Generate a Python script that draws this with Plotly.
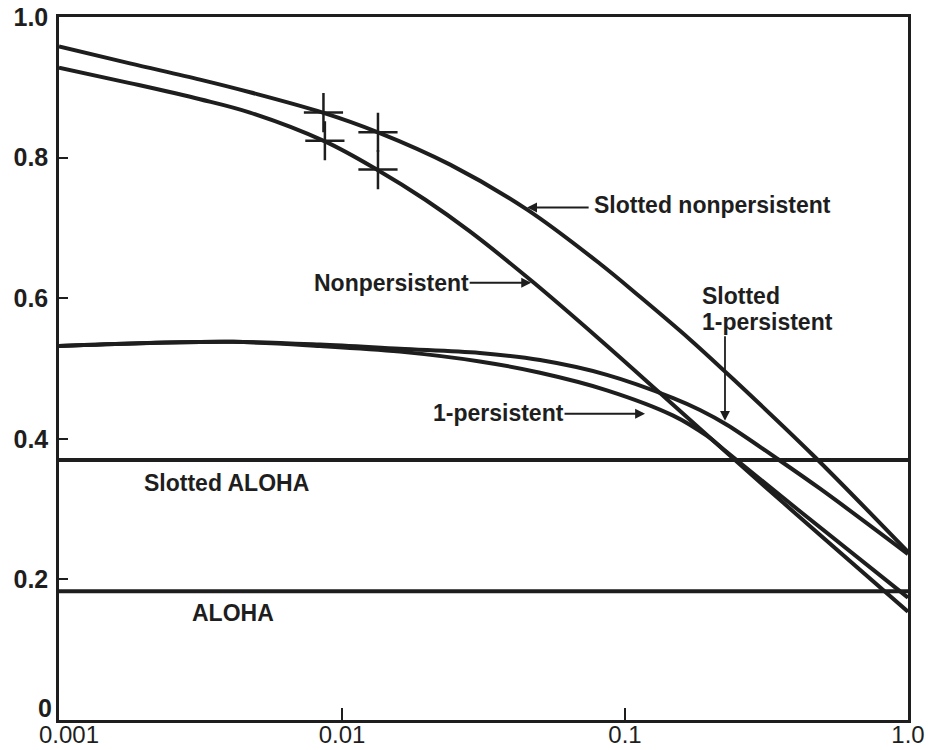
import numpy as np
import plotly.graph_objects as go

# ---- data (x = a, y = throughput S) ----
a_slot_np = [0.001, 0.00178, 0.00315, 0.00473, 0.00855, 0.0134, 0.0241, 0.0451, 0.0816, 0.113, 0.170, 0.241, 0.461, 1.0]
s_slot_np = [0.958, 0.934, 0.911, 0.893, 0.864, 0.836, 0.790, 0.726, 0.649, 0.602, 0.541, 0.485, 0.377, 0.239]

a_np = [0.001, 0.00178, 0.00315, 0.00473, 0.0087, 0.0134, 0.0197, 0.0283, 0.0473, 0.0816, 0.133, 0.229, 0.489, 1.0]
s_np = [0.928, 0.906, 0.883, 0.864, 0.823, 0.782, 0.740, 0.695, 0.623, 0.541, 0.465, 0.380, 0.263, 0.154]

a_1p = [0.001, 0.00193, 0.00412, 0.00836, 0.0160, 0.0307, 0.0501, 0.0863, 0.148, 0.195, 0.229, 0.415, 1.0]
s_1p = [0.532, 0.536, 0.538, 0.532, 0.524, 0.510, 0.494, 0.469, 0.433, 0.404, 0.381, 0.297, 0.174]

a_slot_1p = [0.001, 0.00193, 0.00412, 0.00836, 0.0160, 0.0307, 0.0501, 0.0863, 0.148, 0.184, 0.229, 0.344, 0.489, 1.0]
s_slot_1p = [0.532, 0.536, 0.538, 0.534, 0.528, 0.522, 0.512, 0.491, 0.458, 0.441, 0.420, 0.372, 0.329, 0.236]

a_aloha = [0.001, 1.0]
s_slot_aloha = [0.370, 0.370]
s_aloha = [0.183, 0.183]

# simulation crosses
a_sim = [0.0086, 0.0134, 0.0087, 0.0134]
s_sim = [0.864, 0.836, 0.824, 0.783]

x_tickvals = [0.001, 0.01, 0.1, 1.0]
x_ticktext = ["\u00a0\u00a0\u00a00.001", "0.01", "0.1", "1.0"]
y_tickvals = [0.2, 0.4, 0.6, 0.8, 1.0]
y_ticktext = ["0.2", "0.4", "0.6", "0.8", "1.0"]
y_zero_label = "0"

INK = "#1e1e1e"
FONT = "Liberation Sans"

fig = go.Figure()

def curve(a, s, name, w=4):
    fig.add_trace(go.Scatter(x=a, y=s, mode="lines", name=name,
                             line=dict(color=INK, width=w, shape="spline", smoothing=1.0),
                             showlegend=False, hoverinfo="skip"))

curve(a_slot_np, s_slot_np, "Slotted nonpersistent")
curve(a_np, s_np, "Nonpersistent")
curve(a_slot_1p, s_slot_1p, "Slotted 1-persistent")
curve(a_1p, s_1p, "1-persistent")
fig.add_trace(go.Scatter(x=a_aloha, y=s_slot_aloha, mode="lines", line=dict(color=INK, width=4),
                         showlegend=False, hoverinfo="skip"))
fig.add_trace(go.Scatter(x=a_aloha, y=s_aloha, mode="lines", line=dict(color=INK, width=4),
                         showlegend=False, hoverinfo="skip"))
fig.add_trace(go.Scatter(x=a_sim, y=s_sim, mode="markers",
                         marker=dict(symbol="cross-thin", size=28, line=dict(color=INK, width=2.5)),
                         showlegend=False, hoverinfo="skip"))

lab_font = dict(family=FONT, size=23, color=INK, weight="bold")

def label(text, a, s):
    fig.add_annotation(x=np.log10(a), y=s, text=text, showarrow=False,
                       xanchor="left", yanchor="middle", font=lab_font, borderpad=0)

def arrow(a, s, ax, ay):
    fig.add_annotation(x=np.log10(a), y=s, text="", showarrow=True, ax=ax, ay=ay,
                       arrowhead=2, arrowsize=1.1, arrowwidth=1.8, arrowcolor=INK)

label("Slotted nonpersistent", 0.0771, 0.733)
arrow(0.0451, 0.729, 63, 0)
label("Nonpersistent", 0.0079, 0.622)
arrow(0.0466, 0.622, -63, 0)
label("Slotted", 0.1856, 0.6036)
label("1-persistent", 0.1856, 0.5665)
arrow(0.2256, 0.4256, 0, -86)
label("1-persistent", 0.0208, 0.437)
arrow(0.1177, 0.4356, -82, 0)
label("Slotted ALOHA", 0.00198, 0.337)
label("ALOHA", 0.00293, 0.152)

# "0" tick label of the y axis, sitting just above the x-axis labels
fig.add_annotation(x=0, xref="paper", y=0, yref="y", text=y_zero_label, showarrow=False,
                   xanchor="right", yanchor="middle", xshift=-5, yshift=12,
                   font=dict(family=FONT, size=25, color=INK, weight="bold"))

fig.update_xaxes(type="log", range=[-3, 0], tickvals=x_tickvals, ticktext=x_ticktext,
                 showgrid=False, zeroline=False, showline=True, linecolor=INK, linewidth=2.5,
                 mirror=True, ticks="inside", ticklen=12, tickwidth=2, tickcolor=INK,
                 automargin=False, ticklabelstandoff=-9,
                 tickfont=dict(family=FONT, size=24, color=INK))
fig.update_yaxes(range=[0, 1.0], tickvals=y_tickvals, ticktext=y_ticktext,
                 showgrid=False, zeroline=False, showline=True, linecolor=INK, linewidth=2.5,
                 mirror=True, ticks="inside", ticklen=9, tickwidth=2, tickcolor=INK,
                 automargin=False, ticklabelstandoff=3,
                 tickfont=dict(family=FONT, size=25, color=INK, weight="bold"))

fig.update_layout(width=930, height=750, margin=dict(l=59, r=22, t=17, b=30),
                  plot_bgcolor="white", paper_bgcolor="white")

fig.write_html("out.html", config={"displayModeBar": False},
               post_script="document.body.style.margin='0';")
